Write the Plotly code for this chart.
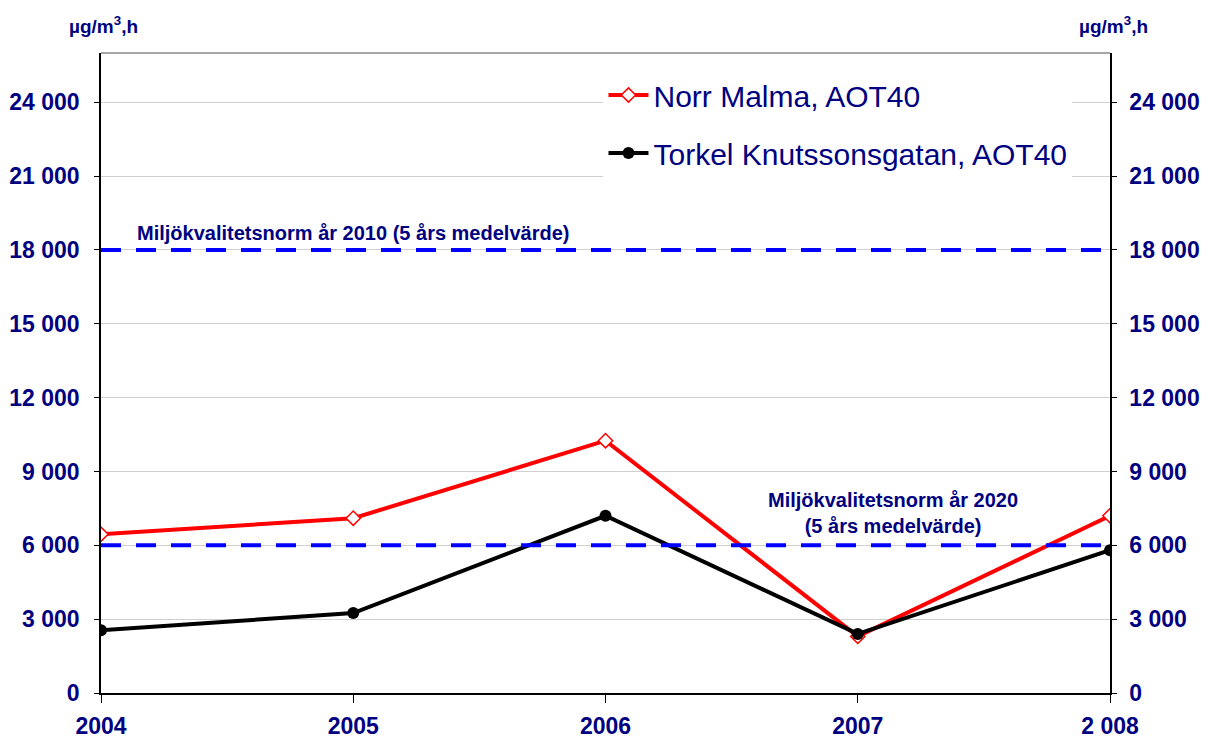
import plotly.graph_objects as go

years = [2004, 2005, 2006, 2007, 2008]
year_labels = ["2004", "2005", "2006", "2007", "2 008"]
norr_malma = [6450, 7100, 10250, 2300, 7200]
torkel = [2550, 3250, 7200, 2400, 5800]
norm_2010 = [18000, 18000]
norm_2020 = [6000, 6000]
norm_x = [2004, 2008]
y_ticks = [0, 3000, 6000, 9000, 12000, 15000, 18000, 21000, 24000]
y_labels = ["0", "3 000", "6 000", "9 000", "12 000", "15 000", "18 000", "21 000", "24 000"]

NAVY = "#000080"
FONT = "Liberation Sans, Arial, sans-serif"

fig = go.Figure()
fig.add_trace(go.Scatter(x=years, y=norr_malma, name="Norr Malma, AOT40",
                         mode="lines+markers", legendgroup="a",
                         line=dict(color="#ff0000", width=4),
                         marker=dict(symbol="diamond", size=11, color="white",
                                     line=dict(color="#ff0000", width=1.5))))
fig.add_trace(go.Scatter(x=years, y=torkel, name="Torkel Knutssonsgatan, AOT40",
                         mode="lines+markers", legendgroup="b",
                         line=dict(color="black", width=4),
                         marker=dict(symbol="circle", size=12, color="black")))
for ny in (norm_2010, norm_2020):
    fig.add_trace(go.Scatter(x=norm_x, y=ny, mode="lines", showlegend=False,
                             hoverinfo="skip",
                             line=dict(color="#0000ff", width=4, dash="20px,15px")))
# invisible trace to carry the right axis
fig.add_trace(go.Scatter(x=norm_x, y=norm_2010, yaxis="y2", mode="lines",
                         showlegend=False, hoverinfo="skip",
                         line=dict(width=0), opacity=0))

tick_font = dict(family=FONT, size=23, color=NAVY, weight="bold")
# the page body adds 8px, so margins are shifted to keep the plot box in place
fig.update_layout(
    width=1212, height=742,
    margin=dict(l=93, r=110, t=45, b=57),
    paper_bgcolor="white", plot_bgcolor="white",
    font=dict(family=FONT, color=NAVY),
    showlegend=True,
    legend=dict(x=0.498, y=0.975, xanchor="left", yanchor="top",
                bgcolor="white", font=dict(family=FONT, size=30, color=NAVY),
                traceorder="grouped", tracegroupgap=16, itemwidth=40),
    xaxis=dict(range=[2004, 2008], tickvals=years, ticktext=year_labels,
               tickfont=tick_font, showgrid=False, zeroline=False,
               showline=True, linecolor="black", linewidth=1.5,
               ticks="outside", ticklen=8, tickcolor="black", automargin=False,
               ticklabelstandoff=4),
    yaxis=dict(range=[0, 26000], tickvals=y_ticks, ticktext=y_labels,
               tickfont=tick_font, showgrid=True, gridcolor="#d0d0d0",
               zeroline=False, showline=True, linecolor="black", linewidth=1.5,
               ticks="outside", ticklen=5, tickcolor="black", automargin=False,
               ticklabelstandoff=10),
    yaxis2=dict(range=[0, 26000], tickvals=y_ticks, ticktext=y_labels,
                tickfont=tick_font, overlaying="y", side="right",
                showgrid=False, zeroline=False, showline=True,
                linecolor="black", linewidth=1.5,
                ticks="outside", ticklen=5, tickcolor="black", automargin=False,
                ticklabelstandoff=8),
    shapes=[dict(type="line", xref="paper", yref="paper", x0=0, x1=1, y0=1, y1=1,
                 line=dict(color="#888888", width=1.5))],
)

ann_font = dict(family=FONT, size=20, color=NAVY, weight="bold")
fig.add_annotation(x=2005, y=18000, text="Miljökvalitetsnorm år 2010 (5 års medelvärde)",
                   showarrow=False, yanchor="bottom", yshift=4, font=ann_font)
fig.add_annotation(x=2007.14, y=6000, text="Miljökvalitetsnorm år 2020<br>(5 års medelvärde)",
                   showarrow=False, yanchor="bottom", yshift=6, font=ann_font)
unit_font = dict(family=FONT, size=19, color=NAVY, weight="bold")
fig.add_annotation(xref="paper", yref="paper", x=0.002, y=1.044,
                   text="µg/m<sup>3</sup>,h", showarrow=False, font=unit_font,
                   xanchor="center", yanchor="middle")
fig.add_annotation(xref="paper", yref="paper", x=1.003, y=1.044,
                   text="µg/m<sup>3</sup>,h", showarrow=False, font=unit_font,
                   xanchor="center", yanchor="middle")

fig.write_html("out.html")
